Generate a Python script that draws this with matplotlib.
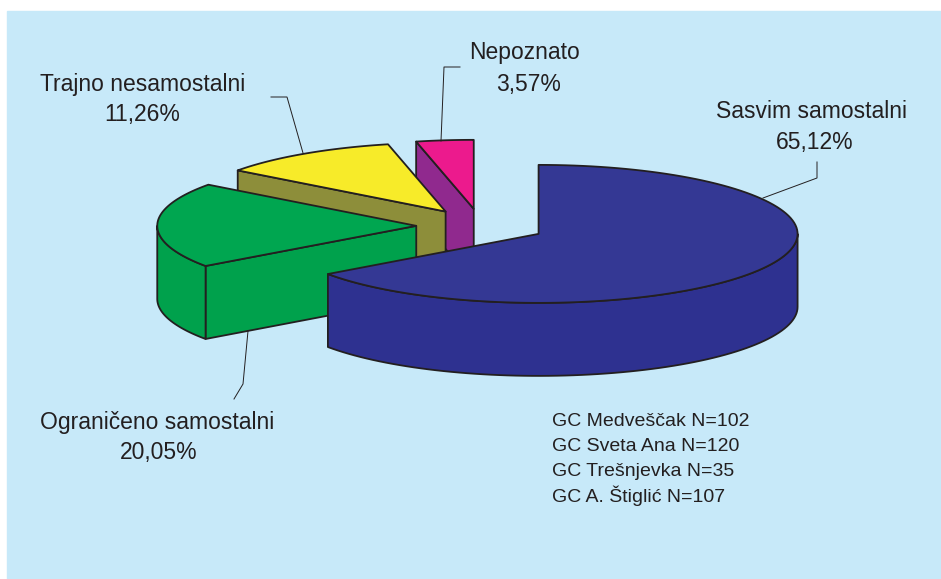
import matplotlib.pyplot as plt
from matplotlib.patches import Polygon, Rectangle
import numpy as np

labels = ['Sasvim samostalni', 'Ograničeno samostalni', 'Trajno nesamostalni', 'Nepoznato']
values = [65.12, 20.05, 11.26, 3.57]
pct_text = ['65,12%', '20,05%', '11,26%', '3,57%']
top_colors = ['#343894', '#00A650', '#F7EB29', '#EC1A8D']
side_colors = ['#2E3190', '#00A14C', '#8D8E3A', '#90298E']
notes = ['GC Medveščak N=102', 'GC Sveta Ana N=120', 'GC Trešnjevka N=35', 'GC A. Štiglić N=107']

plt.rcParams['font.family'] = ['Liberation Sans', 'DejaVu Sans']
txt = '#231F20'

# geometry of the tilted pie, in pixels
CX, CY = 481, 226
RX, RY, H = 259, 69, 73
EXPLODE = 0.25

fig = plt.figure(figsize=(9.41, 5.79), dpi=100)
ax = fig.add_axes([0, 0, 1, 1])
ax.set_xlim(0, 941)
ax.set_ylim(579, 0)
ax.axis('off')
ax.add_patch(Rectangle((7, 11), 941, 579, color='#C7E9F9', zorder=0))


def pt(cx, cy, th, dz=0):
    return cx + RX * np.sin(th), cy - RY * np.cos(th) + dz


def face(pts, color, z):
    ax.add_patch(Polygon(pts, closed=True, facecolor=color, edgecolor=txt,
                         lw=1.3, joinstyle='round', zorder=z))


bounds = np.radians(np.concatenate([[0], np.cumsum(values)]) * 3.6)
slices = []
for i in range(len(values)):
    t0, t1 = bounds[i], bounds[i + 1]
    m = (t0 + t1) / 2
    cx = CX + EXPLODE * RX * np.sin(m)
    cy = CY - EXPLODE * RY * np.cos(m)
    slices.append((cy, i, t0, t1, cx))

# back slices first
for k, (cy, i, t0, t1, cx) in enumerate(sorted(slices)):
    z = 2 + k * 3
    # radial wall at start angle (faces viewer when normal points south)
    if np.cos(t0 - np.pi / 2) < -0.01:
        a = pt(cx, cy, t0)
        face([(cx, cy), a, (a[0], a[1] + H), (cx, cy + H)], side_colors[i], z)
    if np.cos(t1 + np.pi / 2) < -0.01:
        a = pt(cx, cy, t1)
        face([(cx, cy), a, (a[0], a[1] + H), (cx, cy + H)], side_colors[i], z)
    # curved outer wall, front half only
    lo, hi = max(t0, np.pi / 2), min(t1, 3 * np.pi / 2)
    if hi > lo:
        th = np.linspace(lo, hi, 80)
        top = [pt(cx, cy, t) for t in th]
        bot = [pt(cx, cy, t, H) for t in th[::-1]]
        face(top + bot, side_colors[i], z)
    # top
    th = np.linspace(t0, t1, 120)
    face([(cx, cy)] + [pt(cx, cy, t) for t in th], top_colors[i], z + 1)

# labels with leader lines
lab_pos = [(812, 112), (157, 422), (143, 84), (525, 53)]
pct_pos = [(815, 143), (159, 453), (142, 115), (529, 85)]
leaders = [[(763, 198), (817, 178), (817, 162)],
           [(248, 331), (243, 384), (234, 399)],
           [(303, 153), (287, 97), (271, 97)],
           [(441, 141), (444, 67), (460, 67)]]
for i in range(len(labels)):
    ax.text(*lab_pos[i], labels[i], fontsize=16.5, color=txt, ha='center', va='center', zorder=30)
    ax.text(*pct_pos[i], pct_text[i], fontsize=16.5, color=txt, ha='center', va='center', zorder=30)
    xs, ys = zip(*leaders[i])
    ax.plot(xs, ys, color=txt, lw=0.7, zorder=29)

for j, s in enumerate(notes):
    ax.text(552, 422 + j * 24.5, s, fontsize=14, color=txt, ha='left', va='center', zorder=30)

fig.savefig('out.png', dpi=100, facecolor='white')
